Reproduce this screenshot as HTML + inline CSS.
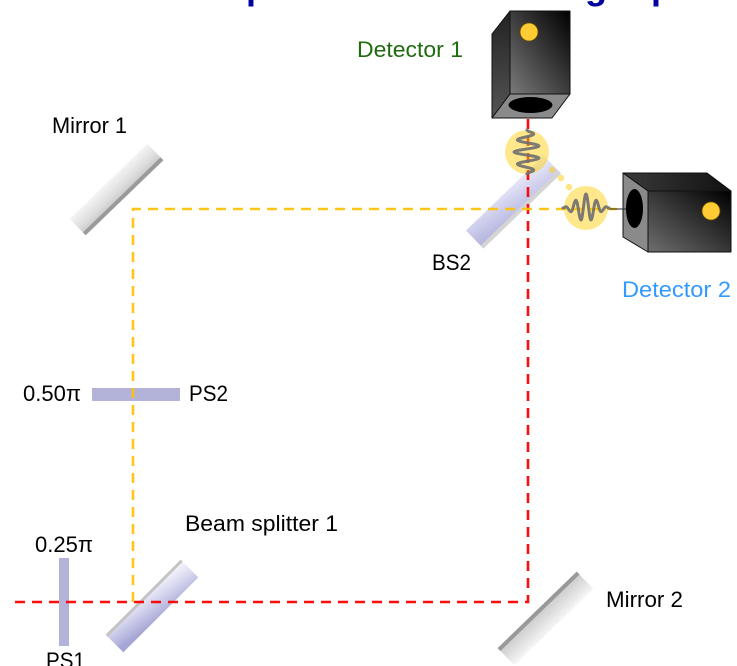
<!DOCTYPE html>
<html>
<head>
<meta charset="utf-8">
<style>
html,body{margin:0;padding:0;background:#fff;}
body{width:737px;height:666px;overflow:hidden;position:relative;}
svg{position:absolute;left:0;top:0;}
text{font-family:"Liberation Sans",Arial,sans-serif;}
</style>
</head>
<body>
<svg width="737" height="666" viewBox="0 0 737 666" xmlns="http://www.w3.org/2000/svg">
<defs>
  <linearGradient id="mirA" x1="0" y1="0" x2="0" y2="1">
    <stop offset="0" stop-color="#f4f4f4"/>
    <stop offset="0.5" stop-color="#e0e0e0"/>
    <stop offset="1" stop-color="#c4c4c4"/>
  </linearGradient>
  <linearGradient id="mirB" x1="0" y1="0" x2="0" y2="1">
    <stop offset="0" stop-color="#c8c8c8"/>
    <stop offset="0.5" stop-color="#dedede"/>
    <stop offset="1" stop-color="#f6f6f6"/>
  </linearGradient>
  <linearGradient id="bs1" x1="1" y1="0" x2="0.3" y2="1">
    <stop offset="0" stop-color="#fcfcff"/>
    <stop offset="0.5" stop-color="#d4d4ee"/>
    <stop offset="1" stop-color="#a6a6d6"/>
  </linearGradient>
  <linearGradient id="bs2" x1="1" y1="0" x2="0.2" y2="1">
    <stop offset="0" stop-color="#f0f0fa"/>
    <stop offset="0.5" stop-color="#d0d0ee"/>
    <stop offset="1" stop-color="#b4b4de"/>
  </linearGradient>
  <linearGradient id="det1front" x1="1" y1="0" x2="0" y2="1">
    <stop offset="0" stop-color="#000"/>
    <stop offset="1" stop-color="#7a7a7a"/>
  </linearGradient>
  <linearGradient id="det1side" x1="0" y1="0" x2="0" y2="1">
    <stop offset="0" stop-color="#222"/>
    <stop offset="1" stop-color="#555"/>
  </linearGradient>
  <linearGradient id="det2front" x1="1" y1="0" x2="0" y2="1">
    <stop offset="0" stop-color="#000"/>
    <stop offset="1" stop-color="#6e6e6e"/>
  </linearGradient>
  <linearGradient id="det2top" x1="0" y1="0" x2="1" y2="0">
    <stop offset="0" stop-color="#3a3a3a"/>
    <stop offset="1" stop-color="#111"/>
  </linearGradient>
</defs>

<!-- Title descenders (cut off at top) -->
<text x="246" y="-1" font-size="36" font-weight="bold" fill="#0000a0">p</text>
<text x="585" y="-1" font-size="36" font-weight="bold" fill="#0000a0">g</text>
<text x="651" y="-1" font-size="36" font-weight="bold" fill="#0000a0">p</text>

<!-- Mirror 1 -->
<g transform="translate(116.5,189.5) rotate(-44)">
  <rect x="-54" y="-11.5" width="108" height="23" fill="url(#mirA)"/>
  <rect x="-54" y="7.5" width="108" height="4" fill="#9a9a9a"/>
</g>

<!-- Mirror 2 -->
<g transform="translate(545.5,618.5) rotate(-44)">
  <rect x="-55" y="-12" width="110" height="24" fill="url(#mirB)"/>
  <rect x="-55" y="-12" width="110" height="4" fill="#999"/>
</g>

<!-- Beam splitter 1 -->
<g transform="translate(152,606) rotate(-45)">
  <rect x="-53" y="-12.5" width="106" height="25" fill="url(#bs1)"/>
  <rect x="-53" y="-12.5" width="106" height="3" fill="#c4c4c4"/>
</g>

<!-- BS2 -->
<g transform="translate(513.5,202) rotate(-44)">
  <rect x="-54" y="-12.5" width="108" height="25" fill="url(#bs2)"/>
  <rect x="-54" y="8.5" width="108" height="4" fill="#d4d4d4"/>
</g>

<!-- Phase shifters -->
<rect x="59" y="558" width="10" height="88" fill="#b3b3d9"/>
<rect x="92" y="388" width="88" height="13" fill="#b3b3d9"/>

<!-- Beams -->
<path d="M15,602 H528 V118" fill="none" stroke="#ff0000" stroke-width="2.6" stroke-dasharray="10 7" opacity="0.95"/>
<path d="M133,602 V209 H623" fill="none" stroke="#ffc000" stroke-width="2.6" stroke-dasharray="10 7" opacity="0.9"/>

<!-- Detector 1 -->
<g stroke="#111" stroke-width="1" stroke-linejoin="round">
  <polygon points="492,34 510,11 510,94 492,118" fill="url(#det1side)"/>
  <rect x="510" y="11" width="60" height="83" fill="url(#det1front)"/>
  <polygon points="510,94 570,94 552,118 492,118" fill="#8a8a8a"/>
</g>
<ellipse cx="530.5" cy="105" rx="22" ry="8" fill="#000"/>
<circle cx="529" cy="32" r="9" fill="#ffcc33" stroke="#6a5000" stroke-width="0.8"/>

<!-- Detector 2 -->
<g stroke="#111" stroke-width="1" stroke-linejoin="round">
  <polygon points="623,173 707,173 731,191 648,191" fill="url(#det2top)"/>
  <polygon points="623,173 648,191 648,252 623,237" fill="#8a8a8a"/>
  <rect x="648" y="191" width="83" height="61" fill="url(#det2front)"/>
</g>
<ellipse cx="634.5" cy="208.5" rx="8.5" ry="19.5" fill="#000"/>
<circle cx="711" cy="211" r="9" fill="#ffcc33" stroke="#6a5000" stroke-width="0.8"/>
<line x1="609" y1="209" x2="626" y2="209" stroke="#222" stroke-width="1"/>

<!-- Wave packets -->
<circle cx="527" cy="152" r="22" fill="#ffcc00" fill-opacity="0.45"/>
<circle cx="586" cy="208" r="22" fill="#ffcc00" fill-opacity="0.45"/>
<circle cx="552" cy="170" r="3.2" fill="#ffcc00" fill-opacity="0.5"/>
<circle cx="561" cy="178" r="3.2" fill="#ffcc00" fill-opacity="0.5"/>
<circle cx="569" cy="187" r="3.2" fill="#ffcc00" fill-opacity="0.5"/>
<path d="M527,130 C527,131.5 533.7,132.5 533.7,134 C533.7,136.2 517.4,137.8 517.4,140 C517.4,142.2 539,143.8 539,146 C539,148.2 514,149.8 514,152 C514,154.2 539,155.8 539,158 C539,160.2 517.4,161.8 517.4,164 C517.4,166.2 533.7,167.8 533.7,170 C533.7,171.5 527,172.5 527,174" fill="none" stroke="#6e6e6e" stroke-width="3" stroke-linecap="round" opacity="0.9"/>
<path d="M563,208 C564.2,208 564.8,206.7 566,206.7 C567.8,206.7 569.2,211.7 571,211.7 C572.8,211.7 574.2,200.3 576,200.3 C577.8,200.3 579.2,220 581,220 C582.8,220 584.2,194 586,194 C587.8,194 589.2,220 591,220 C592.8,220 594.2,200.3 596,200.3 C597.8,200.3 599.2,211.7 601,211.7 C602.8,211.7 604.2,206.7 606,206.7 C607.2,206.7 607.8,208 609,208" fill="none" stroke="#6e6e6e" stroke-width="3" stroke-linecap="round" opacity="0.9"/>

<!-- Labels -->
<text x="357" y="57" font-size="22" fill="#1f6b0f" textLength="106" lengthAdjust="spacingAndGlyphs">Detector 1</text>
<text x="52" y="133" font-size="22" fill="#000" textLength="75" lengthAdjust="spacingAndGlyphs">Mirror 1</text>
<text x="432" y="270" font-size="22" fill="#000" textLength="39" lengthAdjust="spacingAndGlyphs">BS2</text>
<text x="622" y="297" font-size="22" fill="#3399ff" textLength="109" lengthAdjust="spacingAndGlyphs">Detector 2</text>
<text x="23" y="401" font-size="22" fill="#000" textLength="58" lengthAdjust="spacingAndGlyphs">0.50π</text>
<text x="189" y="401" font-size="22" fill="#000" textLength="39" lengthAdjust="spacingAndGlyphs">PS2</text>
<text x="185" y="531" font-size="22" fill="#000" textLength="153" lengthAdjust="spacingAndGlyphs">Beam splitter 1</text>
<text x="35" y="552" font-size="22" fill="#000" textLength="58" lengthAdjust="spacingAndGlyphs">0.25π</text>
<text x="46" y="668" font-size="22" fill="#000" textLength="39" lengthAdjust="spacingAndGlyphs">PS1</text>
<text x="606" y="607" font-size="22" fill="#000" textLength="77" lengthAdjust="spacingAndGlyphs">Mirror 2</text>
</svg>
</body>
</html>
